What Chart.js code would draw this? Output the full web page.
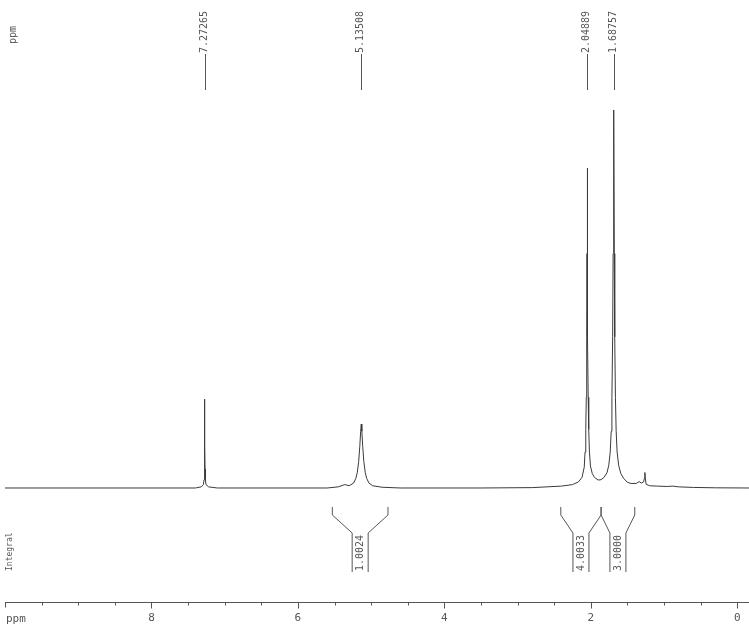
<!DOCTYPE html>
<html>
<head>
<meta charset="utf-8">
<title>1H NMR</title>
<script src="https://cdn.jsdelivr.net/npm/chart.js@4"></script>
<style>
  body { margin: 0; background: #fff; }
  canvas { display: block; }
</style>
</head>
<body>
<canvas id="espectro" width="749" height="635"></canvas>
<script>
// chemical shift (ppm) and relative intensity
const shifts = [
  10.0, 7.40, 7.32, 7.29, 7.282, 7.277, 7.2745, 7.2727, 7.271, 7.2685, 7.2635, 7.255, 7.22, 7.10,
  5.60, 5.45, 5.36, 5.30, 5.24, 5.21, 5.19, 5.17, 5.155, 5.143, 5.135, 5.127, 5.115, 5.10, 5.08, 5.06, 5.03, 4.98, 4.85, 4.60,
  3.50, 2.80, 2.40, 2.25, 2.17, 2.12, 2.09, 2.079, 2.069, 2.062, 2.056, 2.052, 2.049, 2.046, 2.042, 2.036, 2.029, 2.019, 2.005,
  1.98, 1.95, 1.90, 1.86, 1.82, 1.78, 1.755, 1.735, 1.722, 1.712, 1.702, 1.6956, 1.6876, 1.6796, 1.6736, 1.664, 1.654, 1.641,
  1.62, 1.59, 1.55, 1.50, 1.45, 1.38, 1.34, 1.31, 1.28, 1.268, 1.262, 1.256, 1.245, 1.20, 1.10, 0.95, 0.88, 0.80, 0.60, 0.30, -0.16
];
const intensities = [
  0, 0, 0.3, 0.9, 2.2, 5, 11, 23.5, 11, 5, 2.2, 0.9, 0.3, 0,
  0, 0.3, 0.9, 0.6, 1.3, 2.5, 4, 7, 11, 15, 16.9, 15, 11, 7, 4, 2.5, 1.3, 0.6, 0.2, 0,
  0, 0.1, 0.5, 0.9, 1.6, 2.8, 5.5, 9.5, 15.5, 24, 40, 62, 84.6, 62, 40, 24, 15.5, 9.5, 5.8,
  3.8, 2.8, 2.1, 2.2, 2.8, 4.0, 6.0, 9.5, 15, 24, 40, 62, 100, 62, 40, 24, 15, 9.5,
  6, 3.8, 2.5, 1.5, 1.2, 1.2, 1.7, 1.3, 1.6, 2.6, 4.1, 2.6, 1.0, 0.6, 0.5, 0.4, 0.5, 0.3, 0.15, 0.05, 0
];

const peakShifts = [7.27265, 5.13508, 2.04889, 1.68757];
const peakLabels = ["7.27265", "5.13508", "2.04889", "1.68757"];

const integralFrom = [5.53, 2.41, 1.86];
const integralTo = [4.77, 1.86, 1.40];
const integralLabels = ["1.0024", "4.0033", "3.0000"];

const labeledTicks = [8, 6, 4, 2, 0];

const minorTicks = [];
for (let v = 10; v >= 0; v -= 0.5) minorTicks.push(v);

const pontos = shifts.map((s, i) => ({ x: s, y: intensities[i] }));

const cinza = "#555";
const mono = "'DejaVu Sans Mono', monospace";

function textoVertical(c, txt, px, py, tamanho) {
  c.save();
  c.translate(px, py);
  c.rotate(-Math.PI / 2);
  c.font = tamanho + "px " + mono;
  c.textAlign = "left";
  c.textBaseline = "middle";
  c.fillText(txt, 0, 0);
  c.restore();
}

function linha(c, pts) {
  c.beginPath();
  pts.forEach((p, i) => i ? c.lineTo(p[0], p[1]) : c.moveTo(p[0], p[1]));
  c.stroke();
}

const anotacoes = {
  id: "anotacoes",
  afterDraw(chart) {
    const c = chart.ctx;
    const sx = chart.scales.x;
    const area = chart.chartArea;
    const eixoY = Math.round(sx.top) + 0.5;
    c.save();
    c.strokeStyle = cinza;
    c.fillStyle = cinza;
    c.lineWidth = 1;

    // x axis line and tick marks
    linha(c, [[area.left, eixoY], [area.right, eixoY]]);
    minorTicks.forEach(v => {
      const px = Math.round(sx.getPixelForValue(v)) + 0.5;
      const comp = labeledTicks.includes(v) ? 6 : (v === 10 ? 5 : 3);
      linha(c, [[px, eixoY], [px, eixoY + comp]]);
    });
    c.font = "11px " + mono;
    c.textAlign = "left";
    c.textBaseline = "middle";
    c.fillText("ppm", area.left + 1, 619);

    // peak labels
    peakShifts.forEach((s, i) => {
      const px = Math.round(sx.getPixelForValue(s)) + 0.5;
      linha(c, [[px, 54], [px, 90]]);
      textoVertical(c, peakLabels[i], px - 1, 53, 10);
    });
    textoVertical(c, "ppm", 13, 44, 10);

    // integrals
    integralFrom.forEach((a, i) => {
      const b = integralTo[i];
      const xa = sx.getPixelForValue(a);
      const xb = sx.getPixelForValue(b);
      const xm = (xa + xb) / 2;
      linha(c, [[xa, 507], [xa, 515], [xm - 8, 533], [xm - 8, 572]]);
      linha(c, [[xb, 507], [xb, 515], [xm + 8, 533], [xm + 8, 572]]);
      textoVertical(c, integralLabels[i], xm, 571, 10);
    });
    textoVertical(c, "Integral", 10, 571, 8);
    c.restore();
  }
};

new Chart(document.getElementById("espectro"), {
  type: "line",
  data: {
    datasets: [{
      data: pontos,
      borderColor: "#3a3a3a",
      borderWidth: 1,
      pointRadius: 0,
      pointHoverRadius: 0,
      tension: 0,
      fill: false
    }]
  },
  options: {
    responsive: false,
    animation: false,
    layout: { autoPadding: false, padding: { left: 5, right: 0, top: 0, bottom: 0 } },
    plugins: { legend: { display: false }, tooltip: { enabled: false } },
    scales: {
      x: {
        type: "linear",
        reverse: true,
        min: -0.16,
        max: 10,
        afterFit(scale) {
          scale.height = 33;
          scale.paddingLeft = 0;
          scale.paddingRight = 0;
        },
        afterBuildTicks(scale) { scale.ticks = minorTicks.map(v => ({ value: v })); },
        grid: { display: false, drawTicks: false },
        border: { display: false },
        ticks: {
          autoSkip: false,
          maxRotation: 0,
          padding: 10,
          color: cinza,
          font: { family: mono, size: 11 },
          callback: v => labeledTicks.includes(v) ? String(v) : ""
        }
      },
      y: {
        display: false,
        min: -30.16,
        max: 129.1
      }
    }
  },
  plugins: [anotacoes]
});
</script>
</body>
</html>
